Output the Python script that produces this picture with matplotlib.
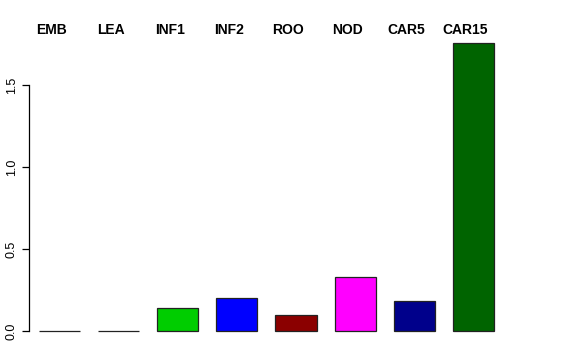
import matplotlib
matplotlib.use("Agg")
import matplotlib.pyplot as plt
import matplotlib.transforms as mtransforms

categories = ["EMB", "LEA", "INF1", "INF2", "ROO", "NOD", "CAR5", "CAR15"]
values = [0.002, 0.002, 0.14, 0.20, 0.098, 0.33, 0.18, 1.756]
colors = ["#BEBEBE", "#BEBEBE", "#00CD00", "#0000FF", "#8B0000", "#FF00FF", "#00008B", "#006400"]
yticks = [0.0, 0.5, 1.0, 1.5]
ytick_labels = ["0.0", "0.5", "1.0", "1.5"]

plt.rcParams['font.family'] = ['Liberation Sans', 'DejaVu Sans']

fig = plt.figure(figsize=(5.76, 3.6), dpi=100)
ax = fig.add_axes([29/576, (360-342.5)/360, 474/576, (342.5-31.5)/360])

x = list(range(len(categories)))
ax.bar(x, values, width=0.695, color=colors, edgecolor="#222222", linewidth=0.9)

ax.set_xlim(-0.516, 7.5)
ax.set_ylim(-0.0702, 1.826)

for s in ["top", "right", "bottom"]:
    ax.spines[s].set_visible(False)
ax.spines["left"].set_bounds(0, 1.5)
ax.spines["left"].set_linewidth(0.9)
ax.set_xticks([])
ax.set_yticks(yticks)
ax.set_yticklabels(ytick_labels, rotation=90, va="center", fontsize=9)
ax.tick_params(axis="y", length=5, width=0.9, pad=3)

trans = mtransforms.blended_transform_factory(ax.transData, fig.transFigure)
for xi, c in zip(x, categories):
    ax.text(xi - 0.135, 1 - 29.5/360, c, transform=trans, ha="center", va="center",
            fontsize=10, fontweight="bold")

fig.savefig("out.png", dpi=100)
